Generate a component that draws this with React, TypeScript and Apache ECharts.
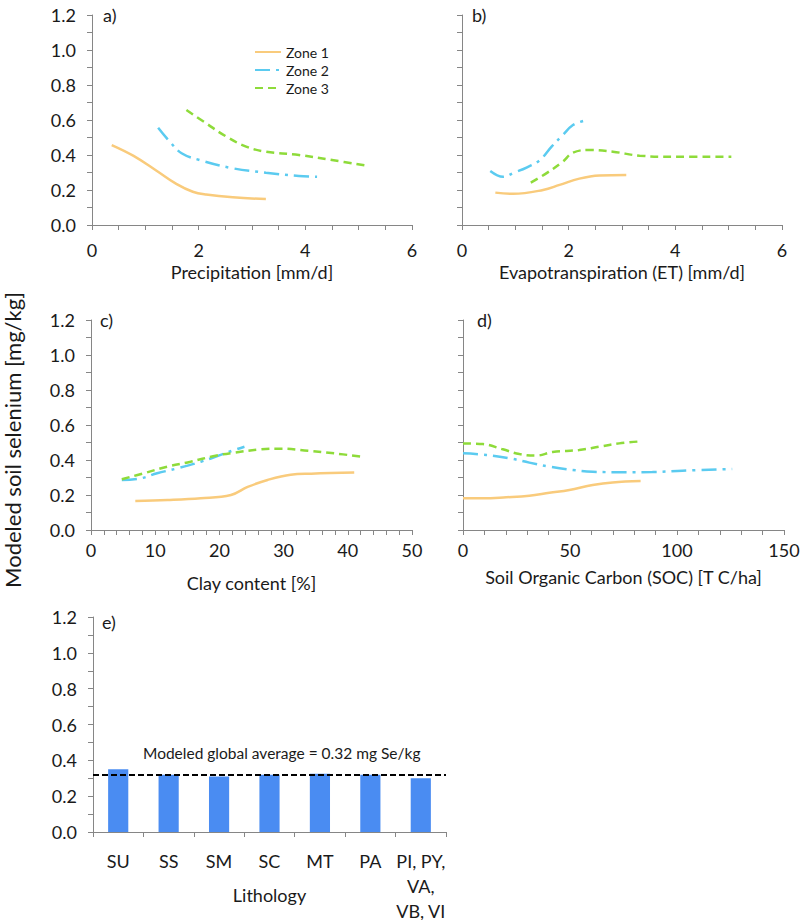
import React, { useEffect, useRef } from "react";
import * as echarts from "echarts";

// ---------- data ----------
const zoneNames = ["Zone 1", "Zone 2", "Zone 3"];

// a) Precipitation [mm/d]
const precipZone1 = [[0.37, 0.457], [0.78, 0.395], [1.21, 0.31], [1.58, 0.235], [1.89, 0.19], [2.14, 0.174], [2.64, 0.158], [3.26, 0.148]];
const precipZone2 = [[1.24, 0.556], [1.46, 0.476], [1.68, 0.41], [2.02, 0.371], [2.64, 0.324], [3.26, 0.299], [3.88, 0.28], [4.22, 0.276]];
const precipZone3 = [[1.77, 0.657], [2.14, 0.581], [2.52, 0.505], [2.89, 0.448], [3.26, 0.419], [3.88, 0.4], [4.5, 0.371], [5.19, 0.337]];

// b) Evapotranspiration [mm/d]
const etZone1 = [[0.625, 0.185], [0.96, 0.178], [1.52, 0.2], [1.83, 0.229], [2.2, 0.265], [2.58, 0.283], [3.08, 0.286]];
const etZone2 = [[0.53, 0.309], [0.77, 0.276], [0.99, 0.301], [1.21, 0.328], [1.46, 0.371], [1.68, 0.448], [1.89, 0.514], [2.08, 0.571], [2.29, 0.596]];
const etZone3 = [[1.29, 0.242], [1.58, 0.295], [1.89, 0.362], [2.08, 0.413], [2.39, 0.429], [2.83, 0.419], [3.33, 0.396], [3.96, 0.39], [5.05, 0.39]];

// c) Clay content [%]
const clayZone1 = [[6.9, 0.166], [11.9, 0.171], [17.1, 0.181], [21.8, 0.2], [24.4, 0.246], [27.5, 0.286], [31.1, 0.316], [34.3, 0.322], [41, 0.328]];
const clayZone2 = [[4.8, 0.286], [7.7, 0.295], [10.3, 0.324], [13.4, 0.352], [17.1, 0.39], [20.2, 0.429], [22.3, 0.457], [23.9, 0.476]];
const clayZone3 = [[4.8, 0.29], [8.2, 0.324], [11.9, 0.362], [15.5, 0.39], [19.2, 0.423], [22.3, 0.442], [26.5, 0.461], [29.6, 0.465], [33.8, 0.453], [37.9, 0.438], [42.1, 0.419]];

// d) Soil Organic Carbon [T C/ha]
const socZone1 = [[0, 0.181], [9.3, 0.181], [20.2, 0.187], [31, 0.196], [40.4, 0.213], [49.7, 0.229], [60.6, 0.257], [69.9, 0.272], [83, 0.28]];
const socZone2 = [[0, 0.438], [10.9, 0.429], [21.7, 0.41], [31, 0.385], [40.4, 0.362], [51.2, 0.343], [60.6, 0.333], [76, 0.33], [88.5, 0.331], [102.5, 0.339], [125.8, 0.349]];
const socZone3 = [[0, 0.495], [9.3, 0.491], [18.6, 0.461], [26.4, 0.434], [34.2, 0.425], [41.9, 0.446], [54.3, 0.457], [63.7, 0.476], [73, 0.495], [81.5, 0.505]];

// e) Lithology
const lithologyCats = ["SU", "SS", "SM", "SC", "MT", "PA", "PI, PY,\nVA,\nVB, VI"];
const lithologyValues = [0.35, 0.32, 0.31, 0.32, 0.325, 0.32, 0.30];
const globalAverage = 0.32;

const panelLetters = ["a)", "b)", "c)", "d)", "e)"];
const xAxisNames = ["Precipitation [mm/d]", "Evapotranspiration (ET) [mm/d]", "Clay content [%]", "Soil Organic Carbon (SOC) [T C/ha]", "Lithology"];
const xMax = [6, 6, 50, 150];
const xInterval = [2, 2, 10, 50];
const xMinorSplit = [4, 4, 5, 5];

// ---------- styles ----------
const FONT = "Lato, 'Open Sans', sans-serif";
const AXIS = "#868686";
const TXT = "#1a1a1a";
const zoneColors = ["#F9CB7C", "#5BCBF0", "#8EDB3A"];
const zoneDash: any[] = ["solid", [15, 6, 3, 6], [8, 5]];

const grids = [
  { left: 92, top: 15, width: 320, height: 210 },
  { left: 462, top: 15, width: 320, height: 210 },
  { left: 91, top: 320, width: 321, height: 210 },
  { left: 463, top: 320, width: 321, height: 210 },
  { left: 93, top: 617, width: 353, height: 215 },
].map((g) => ({ ...g, containLabel: false, outerBoundsMode: "none" }));
const labelMargins = [16, 16, 11, 11, 16];
const nameGaps = [38, 38, 44, 38, 54];

function buildOption() {
  const zoneData = [
    [precipZone1, precipZone2, precipZone3],
    [etZone1, etZone2, etZone3],
    [clayZone1, clayZone2, clayZone3],
    [socZone1, socZone2, socZone3],
  ];

  const yAxes = grids.map((_, i) => ({
    gridIndex: i,
    type: "value",
    min: 0,
    max: 1.2,
    interval: 0.2,
    axisLine: { show: true, lineStyle: { color: AXIS, width: 1 } },
    axisTick: { show: true, length: 5, lineStyle: { color: AXIS } },
    minorTick: { show: true, splitNumber: 2, length: 5, lineStyle: { color: AXIS } },
    splitLine: { show: false },
    axisLabel: {
      show: i === 0 || i === 2 || i === 4,
      formatter: (v: number) => v.toFixed(1),
      fontSize: 18,
      color: TXT,
      margin: 16,
      fontFamily: FONT,
    },
  }));

  const xAxes: any[] = [0, 1, 2, 3].map((i) => ({
    gridIndex: i,
    type: "value",
    min: 0,
    max: xMax[i],
    interval: xInterval[i],
    name: xAxisNames[i],
    nameLocation: "middle",
    nameGap: nameGaps[i],
    nameMoveOverlap: false,
    nameTextStyle: { fontSize: 18, color: TXT, fontFamily: FONT },
    axisLine: { show: true, lineStyle: { color: AXIS, width: 1 } },
    axisTick: { show: true, length: 5, lineStyle: { color: AXIS } },
    minorTick: { show: true, splitNumber: xMinorSplit[i], length: 5, lineStyle: { color: AXIS } },
    splitLine: { show: false },
    axisLabel: { fontSize: 18, color: TXT, margin: labelMargins[i], fontFamily: FONT },
  }));
  xAxes.push({
    gridIndex: 4,
    type: "category",
    data: lithologyCats,
    name: xAxisNames[4],
    nameLocation: "middle",
    nameGap: nameGaps[4],
    nameMoveOverlap: false,
    nameTextStyle: { fontSize: 18, color: TXT, fontFamily: FONT },
    axisLine: { show: true, lineStyle: { color: AXIS, width: 1 } },
    axisTick: { show: true, length: 5, lineStyle: { color: AXIS } },
    axisLabel: { fontSize: 18, color: TXT, margin: labelMargins[4], fontFamily: FONT, lineHeight: 25, interval: 0 },
  });

  const series: any[] = [];
  zoneData.forEach((zones, p) => {
    zones.forEach((data, z) => {
      series.push({
        type: "line",
        name: zoneNames[z],
        xAxisIndex: p,
        yAxisIndex: p,
        data,
        smooth: 0.4,
        symbol: "none",
        lineStyle: { color: zoneColors[z], width: 2.5, type: zoneDash[z] },
        itemStyle: { color: zoneColors[z] },
      });
    });
  });
  series.push({
    type: "bar",
    name: "Lithology",
    xAxisIndex: 4,
    yAxisIndex: 4,
    data: lithologyValues,
    barWidth: "40%",
    itemStyle: { color: "#4A8CF2" },
    markLine: {
      silent: true,
      symbol: ["none", "none"],
      label: { show: false },
      lineStyle: { color: "#000", type: [6, 3], width: 2 },
      data: [{ yAxis: globalAverage }],
    },
  });

  const letterPos = [
    [103, 6], [472, 6], [100, 311], [477, 311], [102, 613],
  ];

  const graphic: any[] = panelLetters.map((t, i) => ({
    type: "text",
    x: letterPos[i][0],
    y: letterPos[i][1],
    style: { text: t, fontSize: 18, fill: TXT, fontFamily: FONT },
  }));
  graphic.push({
    type: "text",
    x: 12,
    y: 440,
    rotation: Math.PI / 2,
    style: {
      text: "Modeled soil selenium [mg/kg]",
      fontSize: 22,
      fill: TXT,
      fontFamily: FONT,
      align: "center",
      verticalAlign: "middle",
    },
  });
  graphic.push({
    type: "text",
    x: 143,
    y: 753,
    style: {
      text: "Modeled global average = " + globalAverage.toFixed(2) + " mg Se/kg",
      fontSize: 15.5,
      fill: TXT,
      fontFamily: FONT,
      verticalAlign: "middle",
    },
  });

  return {
    animation: false,
    backgroundColor: "#fff",
    grid: grids,
    xAxis: xAxes,
    yAxis: yAxes,
    legend: {
      data: zoneNames,
      orient: "vertical",
      left: 249,
      top: 40,
      itemWidth: 26,
      itemHeight: 14,
      itemGap: 4,
      itemStyle: { opacity: 0 },
      textStyle: { fontSize: 14, color: TXT, fontFamily: FONT },
    },
    graphic,
    series,
  };
}

export default function App() {
  const ref = useRef<HTMLDivElement>(null);
  useEffect(() => {
    document.body.style.margin = "0";
    const chart = echarts.init(ref.current!, null, { renderer: "svg" });
    chart.setOption(buildOption() as any);
    return () => chart.dispose();
  }, []);
  return <div ref={ref} style={{ width: 800, height: 920 }} />;
}
